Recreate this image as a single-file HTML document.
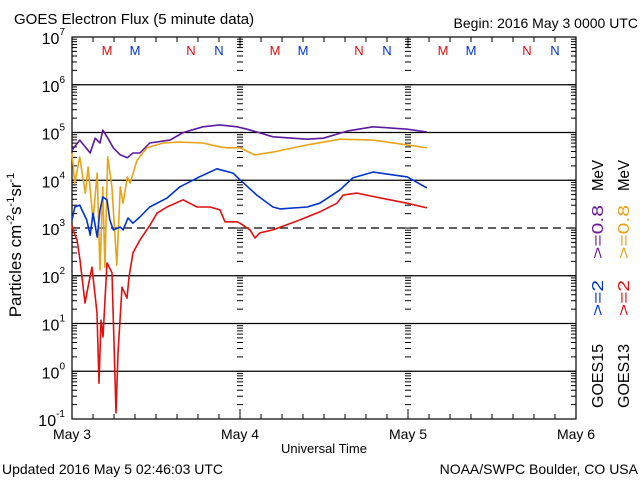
<!DOCTYPE html>
<html><head><meta charset="utf-8"><style>
body{margin:0;background:#fff;}
svg{display:block;font-family:"Liberation Sans",sans-serif;}
</style></head><body>
<svg id="chart" width="640" height="480" viewBox="0 0 640 480">
<rect width="640" height="480" fill="#fff"/>
<text x="14" y="24" font-size="15">GOES Electron Flux (5 minute data)</text>
<text x="638" y="28" font-size="14" text-anchor="end">Begin: 2016 May 3 0000 UTC</text>
<text transform="translate(21,245) rotate(-90)" font-size="17" text-anchor="middle">Particles cm<tspan font-size="11" dy="-7">-2</tspan><tspan dy="7">s</tspan><tspan font-size="11" dy="-7">-1</tspan><tspan dy="7">sr</tspan><tspan font-size="11" dy="-7">-1</tspan></text>
<text x="324" y="453" font-size="13" text-anchor="middle">Universal Time</text>
<text x="2" y="474" font-size="14">Updated 2016 May  5 02:46:03 UTC</text>
<text x="638" y="474" font-size="14" text-anchor="end">NOAA/SWPC Boulder, CO USA</text>
<g id="legend" font-size="16">
<text transform="translate(603,408) rotate(-90)" textLength="64" lengthAdjust="spacingAndGlyphs">GOES15</text>
<text transform="translate(603,316) rotate(-90)" fill="#0033cc" textLength="36" lengthAdjust="spacingAndGlyphs">&gt;=2</text>
<text transform="translate(603,259) rotate(-90)" fill="#6a1b9a" textLength="54" lengthAdjust="spacingAndGlyphs">&gt;=0.8</text>
<text transform="translate(603,191) rotate(-90)" textLength="31" lengthAdjust="spacingAndGlyphs">MeV</text>
<text transform="translate(629,408) rotate(-90)" textLength="64" lengthAdjust="spacingAndGlyphs">GOES13</text>
<text transform="translate(629,316) rotate(-90)" fill="#dd1111" textLength="36" lengthAdjust="spacingAndGlyphs">&gt;=2</text>
<text transform="translate(629,259) rotate(-90)" fill="#e8a317" textLength="54" lengthAdjust="spacingAndGlyphs">&gt;=0.8</text>
<text transform="translate(629,191) rotate(-90)" textLength="31" lengthAdjust="spacingAndGlyphs">MeV</text>
</g>
<g id="axes"></g>
<g id="series"></g>
</svg>
<script>
const dayLabels = ["May 3","May 4","May 5","May 6"];
const yDecades = [-1,0,1,2,3,4,5,6,7];
const markerLabels = ["M","M","N","N"];
const markerHours = [5,9,17,21];
const markerColors = ["#dd1111","#0033cc","#dd1111","#0033cc"];
// time in hours since May 3 00:00 UTC, values are log10(flux)
const g15_08_t = [0,1.1,2.6,3.3,4.0,4.4,5.0,5.9,6.9,7.9,8.7,9.7,11.1,14.0,15.9,18.7,21.1,23.6,25,26.9,28.7,33.6,35.9,39.3,43.0,47.9,50.7];
const g15_08_v = [4.63,4.84,4.57,4.88,4.78,5.05,4.91,4.68,4.53,4.47,4.57,4.57,4.78,4.84,5.0,5.12,5.16,5.12,5.07,4.99,4.91,4.86,4.88,5.03,5.12,5.07,5.01];
const g13_08_t = [0,0.4,1.1,1.9,2.3,3.0,3.6,4.0,4.4,4.7,5.1,5.7,6.4,6.9,7.3,7.9,8.3,9.3,10.7,13.0,15.4,18.7,21.1,22.1,24.0,26.1,28.7,33.6,38.3,43.0,47.9,50.7];
const g13_08_v = [4.57,3.94,4.49,3.73,4.28,3.17,4.15,2.12,3.86,2.18,4.49,3.86,2.22,3.86,3.52,4.07,3.94,4.42,4.68,4.78,4.80,4.78,4.70,4.68,4.68,4.53,4.59,4.74,4.86,4.84,4.74,4.68];
const g15_2_t = [0,0.4,1.1,2.1,2.6,3.0,3.6,4.0,4.4,5.0,5.4,5.9,6.9,7.3,8.0,8.7,9.7,11.1,13.6,15.4,17.9,20.7,23.0,24.0,26.4,28.7,29.7,33.6,35.4,38.3,40.1,43.0,47.9,50.7];
const g15_2_v = [3.17,3.44,3.48,3.17,2.85,3.31,2.81,3.38,3.65,3.59,3.17,2.96,3.02,2.96,3.21,3.10,3.23,3.44,3.63,3.86,4.05,4.24,4.15,4.01,3.69,3.44,3.40,3.44,3.52,3.80,4.05,4.17,4.07,3.84];
const g13_2_t = [0,0.14,0.71,1.14,1.86,2.29,2.86,3.57,3.86,4.14,4.43,5.0,5.71,6.29,6.57,7.14,7.86,8.14,8.71,9.71,11.14,12.14,13.57,15.86,17.86,19.71,21.14,21.86,23.57,24.0,25.43,26.14,26.86,28.71,32.57,35.43,37.86,38.71,40.71,44.0,47.86,50.7];
const g13_2_v = [3.06,2.96,2.75,2.33,1.43,1.76,2.18,1.22,-0.25,1.07,0.72,2.27,2.06,-0.87,0.38,1.76,1.53,1.97,2.48,2.75,3.06,3.31,3.44,3.59,3.44,3.44,3.38,3.13,3.13,3.10,2.96,2.79,2.90,2.96,3.17,3.34,3.52,3.69,3.73,3.63,3.52,3.42];

const L=72,R=576,T=37,B=419;
const xs=h=>L+h*(R-L)/72;
const ys=v=>B-(v+1)*(B-T)/8;
const NS="http://www.w3.org/2000/svg";
function mk(tag,attrs,parent){const e=document.createElementNS(NS,tag);for(const k in attrs)e.setAttribute(k,attrs[k]);parent.appendChild(e);return e;}
const ax=document.getElementById('axes');
const fr=mk('rect',{x:L,y:T,width:R-L,height:B-T,fill:'none',stroke:'#000','stroke-width':1.2},ax);


yDecades.forEach(d=>{
  if(d>-1&&d<7){
    const ln=mk('line',{x1:L,x2:R,y1:ys(d),y2:ys(d),stroke:'#000','stroke-width':1.2,'stroke-dasharray':d===3?'8,5':'none'},ax);
    
    
  }
  const t=mk('text',{x:L-7,y:ys(d)+7,'font-size':16,'text-anchor':'end'},ax);
  
  
  t.textContent='10';
  const s=mk('tspan',{'font-size':10,dy:-9},t);s.textContent=String(d);
  if(d<7){for(let m=2;m<=9;m++){const yy=ys(d+Math.log10(m));
    mk('line',{x1:L,x2:L+5,y1:yy,y2:yy,stroke:'#000'},ax);
    mk('line',{x1:R,x2:R-5,y1:yy,y2:yy,stroke:'#000'},ax);
    [1,2].forEach(k=>{const xx=xs(24*k);mk('line',{x1:xx-3,x2:xx+3,y1:yy,y2:yy,stroke:'#000'},ax);});
  }
  [L,R].forEach((xx,i)=>mk('line',{x1:xx,x2:xx+(i?-8:8),y1:ys(d),y2:ys(d),stroke:'#000'},ax));
  [1,2].forEach(k=>{const xx=xs(24*k);mk('line',{x1:xx-4,x2:xx+4,y1:ys(d),y2:ys(d),stroke:'#000'},ax);});
  }
});
for(let h=0;h<=72;h+=3){const xx=xs(h);const len=h%24===0?10:5;
  mk('line',{x1:xx,x2:xx,y1:B,y2:B-len,stroke:'#000'},ax);
  mk('line',{x1:xx,x2:xx,y1:T,y2:T+len,stroke:'#000'},ax);}
dayLabels.forEach((lab,i)=>{const t=mk('text',{x:xs(24*i),y:439,'font-size':14,'text-anchor':'middle'},ax);
  
  
  t.textContent=lab;});
for(let day=0;day<3;day++){markerLabels.forEach((lab,i)=>{
  const t=mk('text',{x:xs(day*24+markerHours[i]),y:55,'font-size':13,'text-anchor':'middle',fill:markerColors[i]},ax);
  
  
  t.textContent=lab;});}
const se=document.getElementById('series');
const defs=[[g15_08_t,g15_08_v,'#5b1a9e','goes15-0.8mev-line'],[g13_08_t,g13_08_v,'#e8a317','goes13-0.8mev-line'],[g15_2_t,g15_2_v,'#0033cc','goes15-2mev-line'],[g13_2_t,g13_2_v,'#e01010','goes13-2mev-line']];
defs.forEach(([t,v,c,n])=>{
  const pts=t.map((h,i)=>xs(h).toFixed(1)+','+ys(v[i]).toFixed(1)).join(' ');
  const p=mk('polyline',{points:pts,fill:'none',stroke:c,'stroke-width':1.6,'stroke-linejoin':'round'},se);
  
  
});
</script>
</body></html>
